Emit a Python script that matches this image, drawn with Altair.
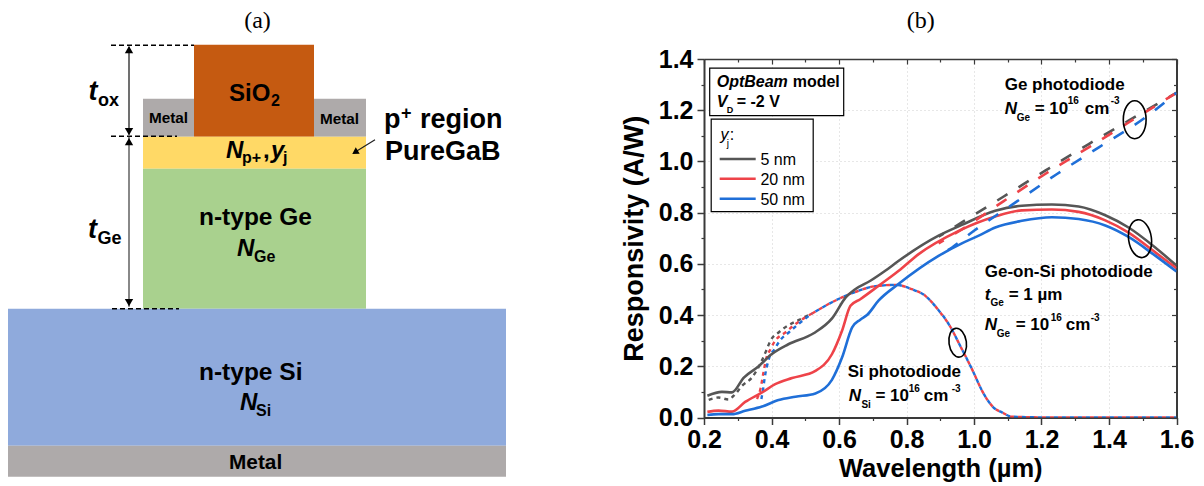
import altair as alt
import pandas as pd

# ---------- series: wavelength (um), responsivity (A/W) ----------
wl_gray = [.21,.253,.283,.318,.362,.40,.45,.525,.58,.62,.648,.693,.737,.777,.895,.964,1.063,1.142,1.231,1.31,1.389,1.458,1.537,1.6]
r_gray = [.085,.10,.098,.156,.20,.247,.286,.329,.388,.469,.501,.534,.573,.612,.71,.752,.807,.827,.832,.824,.79,.742,.664,.593]
wl_red = [.21,.243,.283,.322,.372,.411,.461,.53,.579,.609,.634,.663,.717,.777,.836,.955,1.063,1.142,1.231,1.31,1.389,1.458,1.537,1.6]
r_red = [.022,.027,.023,.061,.098,.13,.154,.182,.247,.339,.436,.462,.514,.573,.638,.729,.785,.809,.812,.803,.77,.722,.645,.583]
wl_blue = [.21,.243,.283,.322,.372,.421,.471,.53,.579,.609,.639,.663,.683,.717,.777,.895,.964,1.014,1.063,1.142,1.231,1.31,1.389,1.458,1.537,1.6]
r_blue = [.01,.013,.013,.026,.043,.068,.081,.094,.147,.234,.352,.382,.40,.456,.522,.631,.68,.71,.742,.768,.782,.775,.75,.705,.632,.57]

wl_ge_gray = [.895,.964,1.088,1.211,1.34,1.458,1.6]
r_ge_gray = [.706,.762,.863,.964,1.068,1.159,1.268]
wl_ge_red = [.895,.964,1.088,1.211,1.34,1.458,1.6]
r_ge_red = [.68,.735,.845,.951,1.055,1.152,1.268]
wl_ge_blue = [.895,.935,1.0,1.123,1.246,1.37,1.508,1.6]
r_ge_blue = [.631,.664,.729,.84,.951,1.055,1.172,1.268]

wl_si_common = [.52,.569,.619,.658,.708,.767,.816,.856,.895,.925,.964,.994,1.024,1.058,1.083,1.113,1.25,1.4,1.6]
r_si_common = [.406,.443,.475,.495,.513,.518,.501,.475,.419,.365,.267,.189,.104,.039,.02,.003,0,0,0]
wl_si_gray = [.214,.243,.273,.288,.313,.342,.372,.384,.397,.421,.451,.48,.52]
r_si_gray = [.069,.078,.07,.085,.124,.156,.224,.26,.30,.332,.361,.38,.406]
wl_si_red = [.357,.367,.377,.384,.397,.411,.441,.471,.52]
r_si_red = [.072,.11,.182,.228,.267,.30,.332,.365,.406]
wl_si_blue = [.37,.375,.38,.392,.409,.426,.451,.48,.52]
r_si_blue = [.072,.11,.156,.228,.267,.302,.332,.365,.406]

GRAY, RED, BLUE = "#565656", "#EE4349", "#1F6FD8"
legend_labels = ["5 nm", "20 nm", "50 nm"]
x_major = [.2,.4,.6,.8,1.0,1.2,1.4,1.6]
x_minor = [.3,.5,.7,.9,1.1,1.3,1.5]
y_major = [0,.2,.4,.6,.8,1.0,1.2,1.4]
y_minor = [.1,.3,.5,.7,.9,1.1,1.3]

# ---------- diagram layers ----------
blocks = pd.DataFrame([
    dict(x=143, x2=194, y=98, y2=136, c="#AEAAAA"),
    dict(x=314, x2=366, y=98, y2=136, c="#AEAAAA"),
    dict(x=194, x2=314, y=44, y2=136, c="#C55A11"),
    dict(x=143, x2=366, y=136, y2=168, c="#FFD966"),
    dict(x=143, x2=366, y=168, y2=308, c="#A9D18E"),
    dict(x=7, x2=506, y=308, y2=445, c="#8FAADC"),
    dict(x=7, x2=506, y=445, y2=476, c="#AEAAAA"),
])

FONT = "Liberation Sans"
SERIF = "Liberation Serif"
LW = 510
RW, RH = 472.5, 358.5
X0, Y0 = 705.3, 58.3

lx = alt.Scale(domain=[8, 8 + LW], nice=False, zero=False)
ly = alt.Scale(domain=[Y0 + RH, Y0], nice=False, zero=False)
rx = alt.Scale(domain=[.2, 1.6], nice=False, zero=False)
ry = alt.Scale(domain=[0, 1.4], nice=False, zero=False)
one = alt.Data(values=[{"a": 1}])


def LX(f="x"):
    return alt.X(f"{f}:Q", scale=lx, axis=None)


def LY(f="y"):
    return alt.Y(f"{f}:Q", scale=ly, axis=None)


def lt(text, x, y, size, style="normal", weight="bold", font=FONT, align="left"):
    return alt.Chart(pd.DataFrame([{"x": x, "y": y}])).mark_text(
        text=text, align=align, baseline="alphabetic", font=font, fontSize=size,
        fontStyle=style, fontWeight=weight, color="#000000").encode(x=LX(), y=LY())


def lseg(x, y, x2, y2, color="#000000", width=1.5, dash=None):
    kw = dict(strokeDash=dash) if dash else {}
    return alt.Chart(pd.DataFrame([{"x": x, "y": y, "x2": x2, "y2": y2}])).mark_rule(
        color=color, strokeWidth=width, **kw).encode(x=LX(), y=LY(), x2="x2:Q", y2="y2:Q")


def ltri(x, y, shape, size=70, angle=0):
    return alt.Chart(pd.DataFrame([{"x": x, "y": y}])).mark_point(
        shape=shape, size=size, filled=True, color="#000000", opacity=1, angle=angle
    ).encode(x=LX(), y=LY())


left_layers = [
    alt.Chart(blocks).mark_rect(strokeWidth=0).encode(
        x=LX(), x2="x2:Q", y=LY(), y2="y2:Q", color=alt.Color("c:N", scale=None)),
    lseg(111, 44.5, 194, 44.5, dash=[5, 3]),
    lseg(111, 135.5, 177, 135.5, dash=[5, 3]),
    lseg(112, 308, 179, 308, dash=[5, 3]),
    lseg(129, 46, 129, 134, "#404040"),
    lseg(129, 136, 129, 306, "#606060"),
    ltri(129, 49, "triangle-up"), ltri(129, 131, "triangle-down"),
    ltri(129, 141, "triangle-up"), ltri(129, 302, "triangle-down"),
    lseg(375, 139, 354, 152, "#202020", 1.2),
    ltri(355, 151.5, "triangle-up", 55, 238),
    lt("(a)", 257.5, 27, 24, weight="normal", font=SERIF, align="center"),
    lt("SiO", 229, 100, 24), lt("2", 271, 105, 16),
    lt("Metal", 149, 122, 15.3), lt("Metal", 320, 123, 15.3),
    lt("N", 226, 157, 24, "italic"), lt("p+", 242, 162, 16), lt(",", 263, 157, 24),
    lt("y", 271, 157, 24, "italic"), lt("j", 283, 162, 16),
    lt("n-type Ge", 199, 224, 24.5),
    lt("N", 237, 255, 24, "italic"), lt("Ge", 254, 261, 16),
    lt("n-type Si", 199, 379, 24.5),
    lt("N", 240, 409, 24, "italic"), lt("Si", 256, 415, 16),
    lt("Metal", 229, 468, 20.8),
    lt("p", 384, 127, 27), lt("+", 401, 118, 18), lt("region", 420, 127, 27),
    lt("PureGaB", 385, 159, 27),
    lt("t", 88.5, 99, 27, "italic"), lt("ox", 98, 105, 18),
    lt("t", 88, 237, 27, "italic"), lt("Ge", 97.5, 243, 18),
]
left = alt.layer(*left_layers).properties(width=LW, height=RH)


# ---------- right panel ----------
def rtxt(text, px, py, size, style="normal", weight="bold", font=FONT, align="left"):
    return alt.Chart(one).mark_text(
        text=text, align=align, baseline="alphabetic", font=font, fontSize=size,
        fontStyle=style, fontWeight=weight, color="#000000").encode(
        x=alt.value(px - X0), y=alt.value(py - Y0))


def curve(xs, ys, color, width=2.6, dash=None, offset=0):
    kw = dict(strokeDash=dash, strokeDashOffset=offset) if dash else {}
    df = pd.DataFrame({"x": xs, "y": ys})
    return alt.Chart(df).mark_line(color=color, strokeWidth=width, interpolate="monotone", clip=True, **kw).encode(
        x=alt.X("x:Q", scale=rx, axis=None), y=alt.Y("y:Q", scale=ry, axis=None), order=alt.Order("x:Q"))


def xaxis(**kw):
    return alt.Chart(pd.DataFrame({"x": [.2], "y": [0]})).mark_point(opacity=0).encode(
        x=alt.X("x:Q", scale=rx, axis=alt.Axis(**kw)),
        y=alt.Y("y:Q", scale=ry, axis=None))


def yaxis(**kw):
    return alt.Chart(pd.DataFrame({"x": [.2], "y": [0]})).mark_point(opacity=0).encode(
        x=alt.X("x:Q", scale=rx, axis=None),
        y=alt.Y("y:Q", scale=ry, axis=alt.Axis(**kw)))


AX = "#3a3a3a"
tick = dict(domain=False, labels=False, ticks=True, grid=False, title=None, tickColor=AX)
grid = dict(grid=True, gridColor="#cfcfcf", gridDash=[1, 3], gridWidth=1)

axes = [
    xaxis(orient="bottom", values=x_major, format=".1f", title="Wavelength (µm)",
          titleFont=FONT, titleFontSize=25.5, titleFontWeight="bold", titleColor="#000000", titlePadding=4,
          labelFont=FONT, labelFontSize=25, labelFontWeight="bold", labelColor="#000000", labelPadding=3,
          labelFlush=False, labelOverlap=False,
          tickSize=7, tickWidth=1.5, tickColor=AX, domainColor=AX, domainWidth=2, **grid),
    xaxis(orient="bottom", values=x_minor, tickSize=3, tickWidth=1.2, **tick),
    xaxis(orient="bottom", offset=-RH, values=x_major, tickSize=5, tickWidth=1.2, **tick),
    xaxis(orient="bottom", offset=-RH, values=x_minor, tickSize=3, tickWidth=1.2, **tick),
    xaxis(orient="top", values=x_major, ticks=False, labels=False, title=None, grid=False,
          domainColor=AX, domainWidth=1.5),
    yaxis(orient="left", values=y_major, format=".1f", title="Responsivity (A/W)",
          titleFont=FONT, titleFontSize=27, titleFontWeight="bold", titleColor="#000000", titlePadding=10,
          labelFont=FONT, labelFontSize=25, labelFontWeight="bold", labelColor="#000000", labelPadding=4,
          labelFlush=False, labelOverlap=False,
          tickSize=7, tickWidth=1.5, tickColor=AX, domainColor=AX, domainWidth=2, **grid),
    yaxis(orient="left", values=y_minor, tickSize=3, tickWidth=1.2, **tick),
    yaxis(orient="left", offset=-RW, values=y_major, tickSize=5, tickWidth=1.2, **tick),
    yaxis(orient="left", offset=-RW, values=y_minor, tickSize=3, tickWidth=1.2, **tick),
    yaxis(orient="right", values=y_major, ticks=False, labels=False, title=None, grid=False,
          domainColor=AX, domainWidth=2),
]

DOT = [4, 4]
DASH = [12, 13]
series = [
    curve(wl_si_gray, r_si_gray, GRAY, 2.4, DOT),
    curve(wl_si_red, r_si_red, RED, 2.4, DOT),
    curve(wl_si_blue, r_si_blue, BLUE, 2.4, DOT),
    curve(wl_si_common, r_si_common, RED, 2.4, DOT),
    curve(wl_si_common, r_si_common, BLUE, 2.4, DOT, 4),
    curve(wl_gray, r_gray, GRAY), curve(wl_red, r_red, RED), curve(wl_blue, r_blue, BLUE),
    curve(wl_ge_gray, r_ge_gray, GRAY, 2.6, DASH, 6),
    curve(wl_ge_red, r_ge_red, RED, 2.6, DASH, 6),
    curve(wl_ge_blue, r_ge_blue, BLUE, 2.6, DASH, 14),
]


def box(x1, y1, x2, y2):
    return alt.Chart(one).mark_rect(fill="#ffffff", stroke="#000000", strokeWidth=1.2).encode(
        x=alt.value(x1 - X0), x2=alt.value(x2 - X0), y=alt.value(y1 - Y0), y2=alt.value(y2 - Y0))


def key(color, py):
    return alt.Chart(one).mark_rule(color=color, strokeWidth=2.6).encode(
        x=alt.value(721 - X0), x2=alt.value(757 - X0), y=alt.value(py - Y0))


ELL = "M-0.6,0A0.6,1,0,1,1,0.6,0A0.6,1,0,1,1,-0.6,0Z"


def ell(px, py, diam, angle=0):
    return alt.Chart(one).mark_point(shape=ELL, size=diam * diam, stroke="#000000", strokeWidth=1.6,
                                     filled=False, opacity=1, angle=angle).encode(
        x=alt.value(px - X0), y=alt.value(py - Y0))


T = 17
notes = [
    box(711, 67.5, 845, 115), box(712.5, 118.5, 814.5, 211),
    rtxt("OptBeam", 718, 86, 16, "italic"), rtxt("model", 794, 86, 16),
    rtxt("V", 718, 106.7, 16, "italic"), rtxt("D", 728, 112.7, 9), rtxt("= -2 V", 738, 106.7, 16),
    rtxt("y", 721.7, 139, 16, "italic", "normal"), rtxt("j", 728, 146, 10, weight="normal"),
    rtxt(":", 731, 139, 16, weight="normal"),
    key(GRAY, 158.3), key(RED, 178), key(BLUE, 198),
    rtxt(legend_labels[0], 761.7, 164, 16, weight="normal"),
    rtxt(legend_labels[1], 761.7, 184, 16, weight="normal"),
    rtxt(legend_labels[2], 761.7, 204, 16, weight="normal"),
    rtxt("Ge photodiode", 1006, 89, T), rtxt("N", 1006, 113, T, "italic"), rtxt("Ge", 1018, 120.7, 10),
    rtxt("= 10", 1036, 113, T), rtxt("16", 1069, 103, 10), rtxt("cm", 1086, 113, T), rtxt("-3", 1112, 103, 10),
    rtxt("Ge-on-Si photodiode", 986, 276.7, T), rtxt("t", 986, 299, T, "italic"), rtxt("Ge", 991.7, 305, 10),
    rtxt("= 1 µm", 1010, 299, T),
    rtxt("N", 986, 329, T, "italic"), rtxt("Ge", 998, 336, 10), rtxt("= 10", 1017, 329, T),
    rtxt("16", 1052, 320, 10), rtxt("cm", 1067, 329, T), rtxt("-3", 1092, 320, 10),
    rtxt("Si photodiode", 849, 376, T), rtxt("N", 850, 400.7, T, "italic"), rtxt("Si", 862.7, 407, 10),
    rtxt("= 10", 876.7, 400.7, T), rtxt("16", 910, 391.7, 10), rtxt("cm", 925, 400.7, T), rtxt("-3", 953, 391.7, 10),
    ell(1136, 119, 38, 0), ell(1141.3, 238, 38, 352), ell(959, 342, 29, 352),
    rtxt("(b)", 922, 27, 24, weight="normal", font=SERIF, align="center"),
]

right = alt.layer(*axes, *series, *notes).resolve_axis(x="independent", y="independent").properties(width=RW, height=RH)

chart = alt.hconcat(left, right, spacing=102).configure_view(stroke=None).properties(
    padding={"top": 0, "left": -1, "right": 0, "bottom": 0}, background="#ffffff")
chart.save("out.html", embed_options={"renderer": "svg", "actions": False})
